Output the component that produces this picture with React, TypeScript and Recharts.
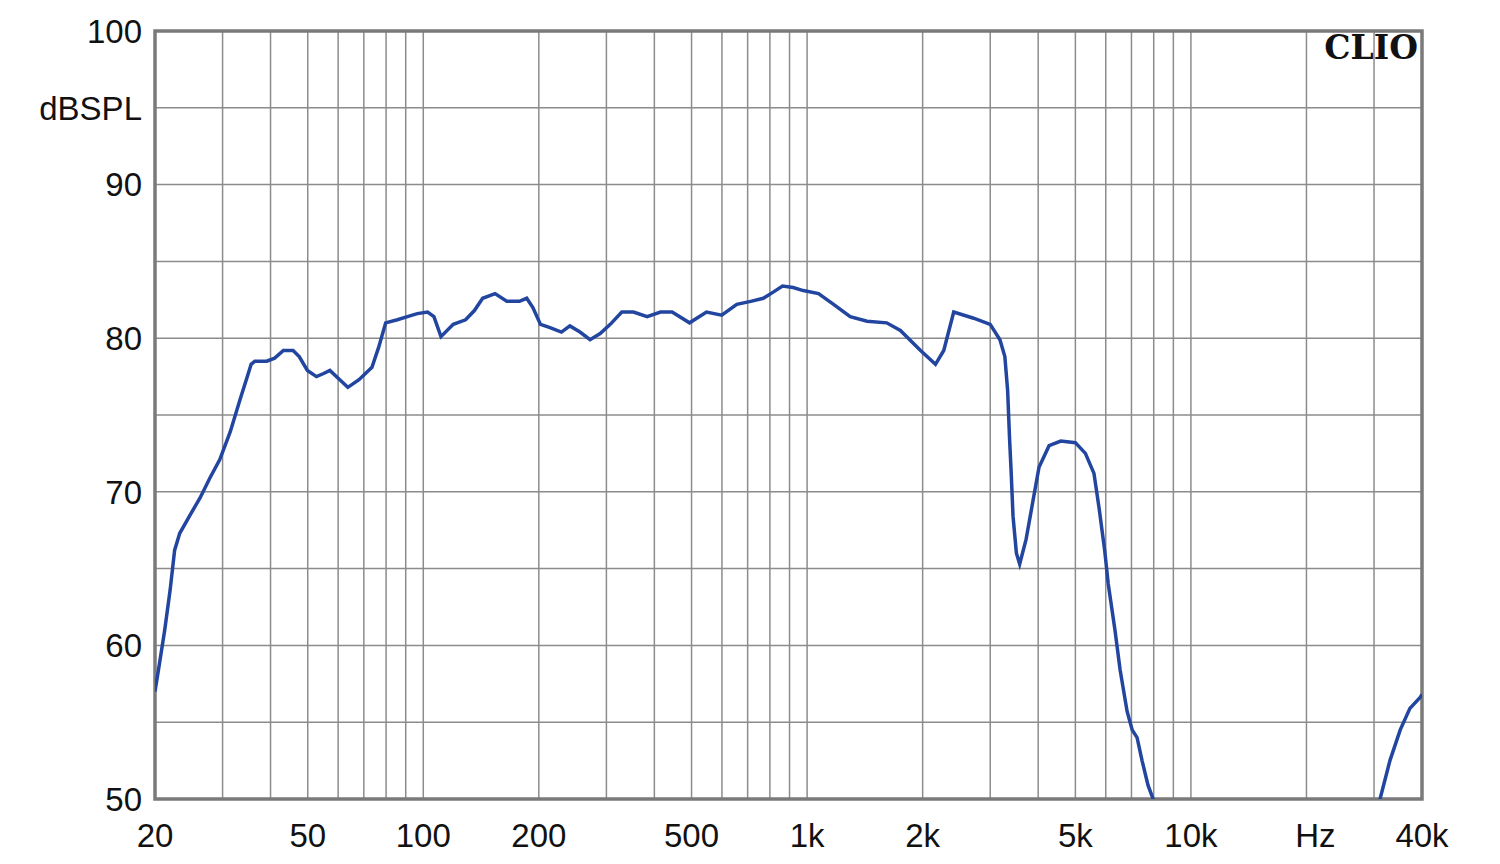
import React from 'react'
import { LineChart, Line, XAxis, YAxis, CartesianGrid, ReferenceArea } from 'recharts'

// frequency response
const freqs = [
  20, 20.6, 21.2, 21.9, 22.5, 23.2, 24.7, 26.2, 27.8, 29.5, 31.4, 33.3, 34.9, 35.6, 36.4, 39.1, 41, 43.2,
  45.8, 47.5, 49.9, 52.7, 55, 57.1, 60.6, 63.6, 68, 73.5, 76.5, 79.8, 85.6, 90.9, 96.5, 102.6, 106.6,
  111.2, 119.7, 128.9, 135.9, 142.8, 153.8, 165, 178, 186, 193, 202, 213, 229, 241, 256, 272, 289, 307,
  329, 353, 383, 415, 445, 494, 547, 599, 656, 713, 769, 816, 863, 920, 977, 1071, 1172, 1295, 1433,
  1612, 1750, 1975, 2160, 2270, 2410, 2715, 3000, 3180, 3275, 3330, 3370, 3400, 3440, 3510, 3580,
  3720, 3870, 4020, 4270, 4580, 5000, 5310, 5590, 5760, 5960, 6090, 6340, 6540, 6820, 7030, 7240,
  7460, 7730, 7970, 8300, 9000, 10000, 13000, 17000, 22000, 27000, 30000, 31100, 33000, 35100, 37200,
  39500, 40000,
]
const spl = [
  57.0, 59.0, 61.0, 63.6, 66.2, 67.3, 68.5, 69.6, 70.9, 72.1, 73.9, 76.0, 77.6, 78.3, 78.5, 78.5, 78.7,
  79.2, 79.2, 78.8, 77.9, 77.5, 77.7, 77.9, 77.3, 76.8, 77.3, 78.1, 79.4, 81.0, 81.2, 81.4, 81.6, 81.7,
  81.4, 80.1, 80.9, 81.2, 81.8, 82.6, 82.9, 82.4, 82.4, 82.6, 82.0, 80.9, 80.7, 80.4, 80.8, 80.4, 79.9,
  80.3, 80.9, 81.7, 81.7, 81.4, 81.7, 81.7, 81.0, 81.7, 81.5, 82.2, 82.4, 82.6, 83.0, 83.4, 83.3, 83.1,
  82.9, 82.2, 81.4, 81.1, 81.0, 80.5, 79.2, 78.3, 79.2, 81.7, 81.3, 80.9, 79.9, 78.8, 76.6, 73.4, 71.4,
  68.4, 66.0, 65.3, 66.9, 69.3, 71.6, 73.0, 73.3, 73.2, 72.5, 71.2, 69.0, 66.2, 64.0, 61.0, 58.4, 55.7,
  54.5, 54.0, 52.5, 50.9, 50.0, 48.3, 45.5, 42.0, 38.0, 36.0, 38.0, 43.0, 48.0, 50.0, 52.5, 54.5, 55.9,
  56.6, 56.8,
]

const xTicks = [
  20, 30, 40, 50, 60, 70, 80, 90, 100, 200, 300, 400, 500, 600, 700, 800, 900, 1000, 2000, 3000, 4000,
  5000, 6000, 7000, 8000, 9000, 10000, 20000, 30000, 40000,
]
const xLabels: Record<number, string> = {
  20: '20', 50: '50', 100: '100', 200: '200', 500: '500', 1000: '1k', 2000: '2k', 5000: '5k',
  10000: '10k', 20000: 'Hz', 40000: '40k',
}
const yTicks = [50, 55, 60, 65, 70, 75, 80, 85, 90, 95, 100]
const yLabels: Record<number, string> = {
  50: '50', 60: '60', 70: '70', 80: '80', 90: '90', 95: 'dBSPL', 100: '100',
}
const yMinor = Array.from({ length: 51 }, (_, i) => 50 + i)

const data = freqs.map((f, i) => ({ f, spl: spl[i] }))

const GRID = '#8c8c8c'
const FONT = '"Liberation Sans", Arial, sans-serif'

function XTick(props: any) {
  const { x, y, payload } = props
  const label = xLabels[payload.value]
  if (!label) return null
  const dx = label === 'Hz' ? 9 : 0
  return (
    <text x={x + dx} y={y} dy="0.71em" textAnchor="middle" fill="#111" fontSize={33} fontFamily={FONT}>
      {label}
    </text>
  )
}

export default function App() {
  return (
    <div style={{ position: 'absolute', left: 0, top: 0, width: 1500, height: 864, background: '#fff' }}>
      <LineChart width={1500} height={864} data={data} margin={{ top: 31, right: 78, bottom: 0, left: 0 }}>
        <CartesianGrid stroke={GRID} strokeWidth={1.5} />
        <XAxis
          dataKey="f"
          type="number"
          scale="log"
          domain={[20, 40000]}
          allowDataOverflow
          ticks={xTicks}
          interval={0}
          height={65}
          tickSize={0}
          tickMargin={25}
          tickLine={false}
          axisLine={false}
          tick={<XTick />}
        />
        <YAxis
          type="number"
          domain={[50, 100]}
          allowDataOverflow
          ticks={yTicks}
          interval={0}
          width={155}
          tickSize={0}
          tickMargin={13}
          tickLine={false}
          axisLine={false}
          tickFormatter={(v: number) => yLabels[v] ?? ''}
          tick={{ fill: '#111', fontSize: 33, fontFamily: FONT }}
        />
        <YAxis
          yAxisId="minL"
          type="number"
          domain={[50, 100]}
          ticks={yMinor}
          interval={0}
          mirror
          width={0}
          tick={false}
          axisLine={false}
          tickSize={6}
          tickLine={{ stroke: GRID, strokeWidth: 1.5 }}
        />
        <YAxis
          yAxisId="minR"
          orientation="right"
          type="number"
          domain={[50, 100]}
          ticks={yMinor}
          interval={0}
          mirror
          width={0}
          tick={false}
          axisLine={false}
          tickSize={6}
          tickLine={{ stroke: GRID, strokeWidth: 1.5 }}
        />
        <ReferenceArea x1={20} x2={40000} y1={50} y2={100} fill="none" stroke="#7a7a7a" strokeWidth={3.5} />
        <Line
          dataKey="spl"
          type="linear"
          stroke="#2245a0"
          strokeWidth={3.5}
          dot={false}
          isAnimationActive={false}
        />
      </LineChart>
      <div
        style={{
          position: 'absolute',
          right: 82,
          top: 28,
          fontFamily: '"DejaVu Serif", serif',
          fontWeight: 'bold',
          fontSize: 33,
          color: '#111',
          lineHeight: '40px',
        }}
      >
        CLIO
      </div>
    </div>
  )
}
